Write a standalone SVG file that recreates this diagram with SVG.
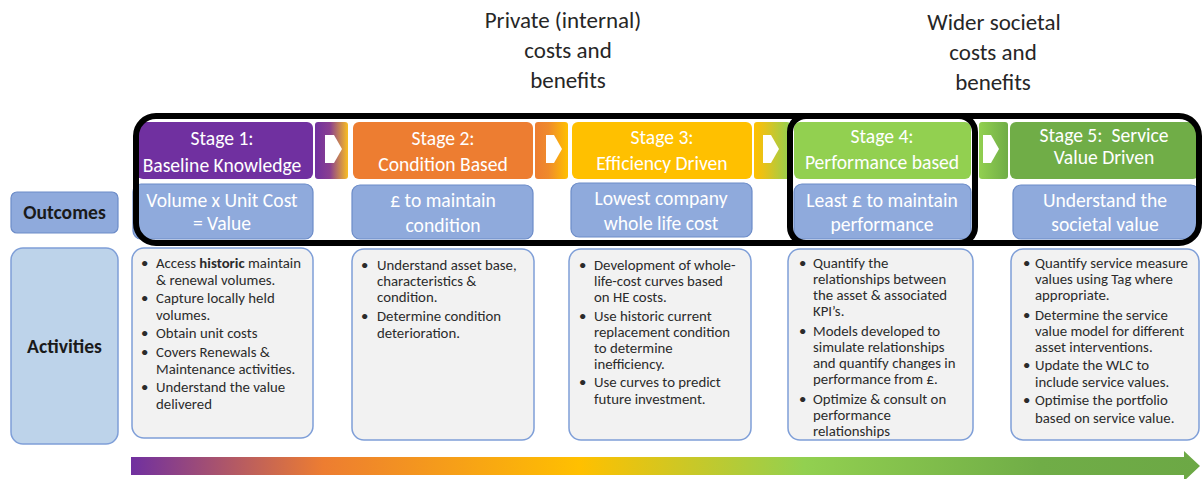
<svg xmlns="http://www.w3.org/2000/svg" width="1203" height="479" viewBox="0 0 1203 479">
  <defs>
    <style>
      .hdr { font-family: Carlito, Lato, "Liberation Sans", sans-serif; font-size: 23px; fill: #262626; text-anchor: middle; }
      .stage { font-family: Carlito, Lato, "Liberation Sans", sans-serif; font-size: 19.6px; fill: #ffffff; text-anchor: middle; white-space: pre; }
      .outc { font-family: Carlito, Lato, "Liberation Sans", sans-serif; font-size: 19.6px; fill: #ffffff; text-anchor: middle; }
      .lbl { font-family: Carlito, Lato, "Liberation Sans", sans-serif; font-size: 19.6px; font-weight: bold; fill: #1a1a1a; text-anchor: middle; }
      .act { font-family: Carlito, Lato, "Liberation Sans", sans-serif; font-size: 14.8px; fill: #2b2b2b; }
      .outbox { fill: #8FAADC; stroke: #6C8CC8; stroke-width: 1.2; }
      .actbox { fill: #F2F2F2; stroke: #7F9FD8; stroke-width: 1.5; }
      .frame { fill: none; stroke: #000000; stroke-width: 6; }
      .chev { fill: #ffffff; }
    </style>
    <linearGradient id="g1" x1="0" y1="0" x2="1" y2="0">
      <stop offset="0" stop-color="#7030A0"/>
      <stop offset="0.45" stop-color="#8A3F90"/>
      <stop offset="1" stop-color="#F9BE22"/>
    </linearGradient>
    <linearGradient id="g2" x1="0" y1="0" x2="1" y2="0">
      <stop offset="0" stop-color="#ED7D31"/>
      <stop offset="0.4" stop-color="#EF8A2C"/>
      <stop offset="1" stop-color="#FFC000"/>
    </linearGradient>
    <linearGradient id="g3" x1="0" y1="0" x2="1" y2="0">
      <stop offset="0" stop-color="#FFC000"/>
      <stop offset="0.3" stop-color="#E6C21A"/>
      <stop offset="1" stop-color="#92D050"/>
    </linearGradient>
    <linearGradient id="g4" x1="0" y1="0" x2="1" y2="0">
      <stop offset="0" stop-color="#92D050"/>
      <stop offset="1" stop-color="#70AD47"/>
    </linearGradient>
    <linearGradient id="gbar" x1="0" y1="0" x2="1" y2="0">
      <stop offset="0" stop-color="#7030A0"/>
      <stop offset="0.18" stop-color="#ED7D31"/>
      <stop offset="0.42" stop-color="#FFC000"/>
      <stop offset="0.63" stop-color="#92D050"/>
      <stop offset="0.85" stop-color="#70AD47"/>
      <stop offset="1" stop-color="#6CA845"/>
    </linearGradient>
  </defs>

  <rect width="1203" height="479" fill="#ffffff"/>

  <!-- header captions -->
  <g id="hdr-private">
    <text class="hdr" x="563" y="28">Private (internal)</text>
    <text class="hdr" x="568" y="58">costs and</text>
    <text class="hdr" x="568" y="88">benefits</text>
  </g>
  <g id="hdr-societal">
    <text class="hdr" x="994" y="30">Wider societal</text>
    <text class="hdr" x="993" y="60">costs and</text>
    <text class="hdr" x="993" y="90">benefits</text>
  </g>

  <!-- row labels -->
  <g id="label-outcomes">
    <rect class="outbox" x="11" y="192" width="107" height="41" rx="6"/>
    <text class="lbl" x="64.5" y="219">Outcomes</text>
  </g>
  <g id="label-activities">
    <rect x="11" y="248" width="107" height="196" rx="12" fill="#BDD3EA" stroke="#7F9FD8" stroke-width="1.5"/>
    <text class="lbl" x="64.5" y="353">Activities</text>
  </g>

  <!-- connectors between stages -->
  <g id="connectors">
    <rect x="315" y="122" width="33" height="57" rx="3" fill="url(#g1)"/>
    <path class="chev" d="M325,135 H334 L342,149 L334,163 H325 Z"/>
    <rect x="535" y="122" width="33" height="57" rx="3" fill="url(#g2)"/>
    <path class="chev" d="M546,135 H554 L562,149 L554,163 H546 Z"/>
    <rect x="754" y="122" width="36" height="57" rx="3" fill="url(#g3)"/>
    <path class="chev" d="M763,135 H771 L779,149 L771,163 H763 Z"/>
    <rect x="979" y="122" width="29" height="57" rx="3" fill="url(#g4)"/>
    <path class="chev" d="M983,135 H991 L999,149 L991,163 H983 Z"/>
  </g>

  <!-- stage 1 -->
  <g id="stage1">
    <rect x="137" y="122" width="176" height="57" rx="6" fill="#7030A0"/>
    <text class="stage" x="222" y="145">Stage 1:</text>
    <text class="stage" x="222" y="172">Baseline Knowledge</text>
    <rect class="outbox" x="133" y="184" width="180" height="55" rx="8"/>
    <text class="outc" x="222" y="207">Volume x Unit Cost</text>
    <text class="outc" x="222" y="230">= Value</text>
  </g>

  <!-- stage 2 -->
  <g id="stage2">
    <rect x="353" y="122" width="180" height="57" rx="6" fill="#ED7D31"/>
    <text class="stage" x="443" y="145">Stage 2:</text>
    <text class="stage" x="443" y="171">Condition Based</text>
    <rect class="outbox" x="352" y="185" width="181" height="54" rx="8"/>
    <text class="outc" x="443" y="207">£ to maintain</text>
    <text class="outc" x="443" y="232">condition</text>
  </g>

  <!-- stage 3 -->
  <g id="stage3">
    <rect x="572" y="122" width="180" height="57" rx="6" fill="#FFC000"/>
    <text class="stage" x="662" y="144">Stage 3:</text>
    <text class="stage" x="662" y="170">Efficiency Driven</text>
    <rect class="outbox" x="571" y="183" width="181" height="54" rx="8"/>
    <text class="outc" x="661" y="205">Lowest company</text>
    <text class="outc" x="661" y="230">whole life cost</text>
  </g>

  <!-- stage 4 -->
  <g id="stage4">
    <rect x="794" y="122" width="177" height="57" rx="6" fill="#92D050"/>
    <text class="stage" x="882" y="143">Stage 4:</text>
    <text class="stage" x="882" y="169">Performance based</text>
    <rect class="outbox" x="794" y="184" width="177" height="55" rx="8"/>
    <text class="outc" x="882" y="207">Least £ to maintain</text>
    <text class="outc" x="882" y="231">performance</text>
  </g>

  <!-- stage 5 -->
  <g id="stage5">
    <rect x="1010" y="122" width="189" height="57" rx="6" fill="#70AD47"/>
    <text class="stage" x="1104" y="142">Stage 5:  Service</text>
    <text class="stage" x="1104" y="164">Value Driven</text>
    <rect class="outbox" x="1013" y="185" width="186" height="54" rx="8"/>
    <text class="outc" x="1105" y="207">Understand the</text>
    <text class="outc" x="1105" y="231">societal value</text>
  </g>

  <!-- boundary frames -->
  <g id="frames">
    <rect class="frame" x="136" y="116" width="1063" height="127" rx="20"/>
    <rect class="frame" x="790" y="116" width="185" height="127" rx="16"/>
  </g>

  <!-- activities: stage 1 -->
  <g id="activities1">
    <rect class="actbox" x="132" y="248" width="181" height="190" rx="12"/>
    <g class="act">
      <text x="141" y="268">•</text><text x="156" y="268">Access <tspan font-weight="bold">historic</tspan> maintain</text>
      <text x="156" y="285">&amp; renewal volumes.</text>
      <text x="141" y="303">•</text><text x="156" y="303">Capture locally held</text>
      <text x="156" y="320">volumes.</text>
      <text x="141" y="338">•</text><text x="156" y="338">Obtain unit costs</text>
      <text x="141" y="357">•</text><text x="156" y="357">Covers Renewals &amp;</text>
      <text x="156" y="374">Maintenance activities.</text>
      <text x="141" y="392">•</text><text x="156" y="392">Understand the value</text>
      <text x="156" y="409">delivered</text>
    </g>
  </g>

  <!-- activities: stage 2 -->
  <g id="activities2">
    <rect class="actbox" x="352" y="249" width="182" height="191" rx="12"/>
    <g class="act">
      <text x="361" y="270">•</text><text x="377" y="270">Understand asset base,</text>
      <text x="377" y="286">characteristics &amp;</text>
      <text x="377" y="302">condition.</text>
      <text x="361" y="321">•</text><text x="377" y="321">Determine condition</text>
      <text x="377" y="338">deterioration.</text>
    </g>
  </g>

  <!-- activities: stage 3 -->
  <g id="activities3">
    <rect class="actbox" x="569" y="249" width="182" height="191" rx="12"/>
    <g class="act">
      <text x="579" y="270">•</text><text x="594" y="270">Development of whole-</text>
      <text x="594" y="286">life-cost curves based</text>
      <text x="594" y="302">on HE costs.</text>
      <text x="579" y="321">•</text><text x="594" y="321">Use historic current</text>
      <text x="594" y="337">replacement condition</text>
      <text x="594" y="353">to determine</text>
      <text x="594" y="369">inefficiency.</text>
      <text x="579" y="387">•</text><text x="594" y="387">Use curves to predict</text>
      <text x="594" y="404">future investment.</text>
    </g>
  </g>

  <!-- activities: stage 4 -->
  <g id="activities4">
    <rect class="actbox" x="788" y="249" width="185" height="191" rx="12"/>
    <g class="act">
      <text x="799" y="268">•</text><text x="813" y="268">Quantify the</text>
      <text x="813" y="284">relationships between</text>
      <text x="813" y="300">the asset &amp; associated</text>
      <text x="813" y="316">KPI’s.</text>
      <text x="799" y="336">•</text><text x="813" y="336">Models developed to</text>
      <text x="813" y="352">simulate relationships</text>
      <text x="813" y="368">and quantify changes in</text>
      <text x="813" y="384">performance from £.</text>
      <text x="799" y="404">•</text><text x="813" y="404">Optimize &amp; consult on</text>
      <text x="813" y="420">performance</text>
      <text x="813" y="436">relationships</text>
    </g>
  </g>

  <!-- activities: stage 5 -->
  <g id="activities5">
    <rect class="actbox" x="1011" y="249" width="188" height="191" rx="12"/>
    <g class="act">
      <text x="1023" y="268">•</text><text x="1035" y="268">Quantify service measure</text>
      <text x="1035" y="284">values using Tag where</text>
      <text x="1035" y="300">appropriate.</text>
      <text x="1023" y="320">•</text><text x="1035" y="320">Determine the service</text>
      <text x="1035" y="336">value model for different</text>
      <text x="1035" y="352">asset interventions.</text>
      <text x="1023" y="370">•</text><text x="1035" y="370">Update the WLC to</text>
      <text x="1035" y="387">include service values.</text>
      <text x="1023" y="405">•</text><text x="1035" y="405">Optimise the portfolio</text>
      <text x="1035" y="423">based on service value.</text>
    </g>
  </g>

  <!-- progression arrow -->
  <g id="progress-arrow">
    <path d="M131,457 H1184 V451 L1200,466 L1184,481 V475 H131 Z" fill="url(#gbar)"/>
  </g>
</svg>
